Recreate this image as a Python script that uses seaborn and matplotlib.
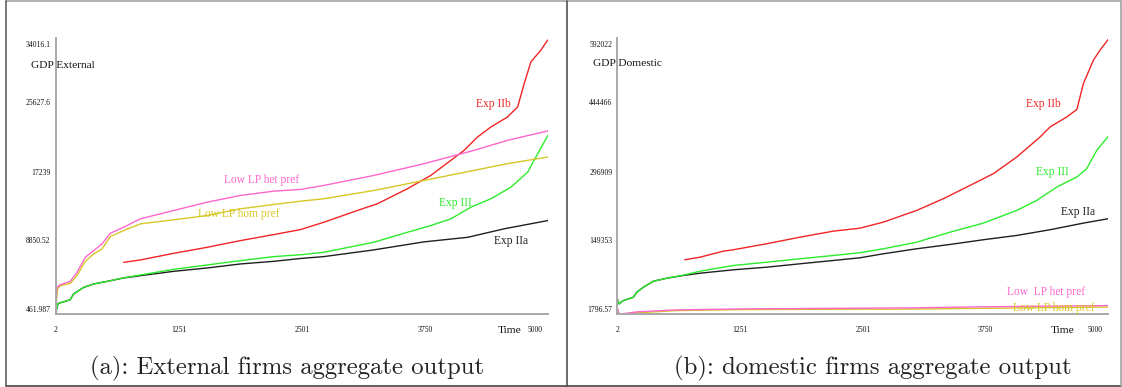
import matplotlib
matplotlib.use("Agg")
import matplotlib.pyplot as plt
import matplotlib.transforms as mtransforms
from matplotlib.lines import Line2D
import seaborn as sns

# ---------------- data ----------------
# Panel (a): external firms aggregate output
ext_IIa_t = [2, 27, 149, 183, 285, 386, 522, 691, 861, 1196, 1539, 1877, 2212, 2487, 2720, 3229, 3737, 4184, 4550, 4997]
ext_IIa_v = [681, 1779, 2230, 2925, 3730, 4144, 4461, 4876, 5156, 5681, 6095, 6583, 6900, 7250, 7473, 8290, 9265, 9826, 10850, 11862]

ext_III_t = [2, 27, 149, 183, 285, 386, 522, 691, 861, 1199, 1539, 1877, 2212, 2487, 2720, 3229, 3571, 3808, 4011, 4214, 4418, 4621, 4791, 4893, 4997]
ext_III_v = [681, 1779, 2230, 2925, 3730, 4144, 4461, 4900, 5242, 5925, 6461, 6985, 7473, 7700, 7997, 9217, 10436, 11253, 12070, 13484, 14509, 15923, 17752, 19995, 22227]

ext_IIb_t = [691, 861, 1199, 1539, 1877, 2215, 2487, 2723, 3062, 3266, 3571, 3808, 4011, 4146, 4282, 4418, 4587, 4689, 4756, 4824, 4926, 4994]
ext_IIb_v = [6778, 7071, 7875, 8607, 9424, 10155, 10765, 11655, 13082, 13899, 15728, 17349, 19178, 20397, 22019, 23238, 24458, 25677, 28530, 31164, 32590, 33810]

ext_het_t = [2, 14, 48, 149, 218, 302, 387, 472, 556, 691, 861, 1199, 1539, 1877, 2215, 2487, 2723, 3232, 3740, 4248, 4587, 4994]
ext_het_v = [889, 3730, 4059, 4461, 5559, 7388, 8204, 9022, 10314, 11046, 12070, 13082, 14094, 14911, 15435, 15642, 16130, 17349, 18776, 20397, 21617, 22751]

ext_hom_t = [2, 20, 48, 149, 218, 302, 387, 472, 556, 691, 861, 1199, 1539, 1877, 2215, 2487, 2723, 3232, 3740, 4248, 4587, 4994]
ext_hom_v = [889, 3535, 3937, 4217, 5156, 6900, 7802, 8412, 9912, 10643, 11460, 11948, 12472, 13289, 13813, 14216, 14509, 15520, 16740, 17959, 18776, 19581]

# Panel (b): domestic firms aggregate output
dom_IIa_t = [2, 19, 63, 165, 200, 267, 369, 505, 674, 844, 1183, 1523, 1862, 2202, 2473, 2711, 3051, 3390, 3729, 4069, 4408, 4747, 5000]
dom_IIa_v = [34800, 24086, 31159, 38231, 48947, 59663, 72523, 78952, 84739, 89668, 96955, 102527, 109814, 116887, 122673, 131246, 141962, 151178, 161251, 170466, 182682, 196827, 206257]

dom_III_t = [2, 19, 63, 165, 200, 267, 369, 505, 674, 844, 1183, 1523, 1862, 2202, 2473, 2711, 3051, 3390, 3729, 4069, 4272, 4476, 4680, 4781, 4883, 5000]
dom_III_v = [34800, 24086, 31159, 38231, 48947, 59663, 72523, 78952, 85500, 93946, 106161, 113235, 120530, 127591, 133500, 141962, 156093, 177523, 196827, 224026, 245456, 273958, 295388, 313389, 352606, 382608]

dom_IIb_t = [689, 844, 1081, 1183, 1523, 1862, 2202, 2473, 2711, 3051, 3322, 3661, 3831, 4069, 4306, 4408, 4578, 4680, 4747, 4849, 4917, 5000]
dom_IIb_v = [118376, 123948, 136806, 139806, 152664, 166808, 179666, 186000, 198953, 224026, 249099, 284673, 302674, 338248, 381108, 402538, 423968, 439826, 495544, 545476, 566906, 589836]

dom_het_t = [2, 20, 200, 607, 1285, 2983, 3662, 5000]
dom_het_v = [15000, 1900, 7000, 11226, 13370, 15513, 17656, 20441]

dom_hom_t = [2, 20, 200, 607, 1285, 2983, 3662, 5000]
dom_hom_v = [15000, 1900, 5000, 9727, 11870, 12941, 14441, 17227]

x_ticks = [2, 1251, 2501, 3750, 5000]
x_tick_labels = ["2", "1251", "2501", "3750", "5000"]
ext_y_ticks = [461.987, 8850.52, 17239, 25627.6, 34016.1]
ext_y_labels = ["461.987", "8850.52", "17239", "25627.6", "34016.1"]
dom_y_ticks = [1796.57, 149353, 296909, 444466, 592022]
dom_y_labels = ["1796.57", "149353", "296909", "444466", "592022"]

# ---------------- style ----------------
sns.set_style("white")
plt.rcParams["font.family"] = ["Liberation Serif", "DejaVu Serif"]

C_RED = "#f02424"
C_GREEN = "#2cec2c"
C_BLACK = "#202020"
C_PINK = "#ff66cc"
C_YEL = "#d6c626"

W, H = 1122, 387
fig = plt.figure(figsize=(W / 100, H / 100), dpi=100)
fig.patch.set_facecolor("white")


def fx(px):
    return px / W


def fy(py):
    return 1 - py / H


def make_axes(x0, x1):
    ax = fig.add_axes([fx(x0), fy(314.3), (x1 - x0) / W, (314.3 - 38.3) / H])
    ax.set_facecolor("white")
    for s in ("top", "right"):
        ax.spines[s].set_visible(False)
    for s in ("left", "bottom"):
        ax.spines[s].set_color("#a8a8a8")
        ax.spines[s].set_linewidth(1.4)
    ax.tick_params(axis="both", direction="inout", color="black", width=0.8,
                   labelsize=5.5, labelcolor="#111111")
    ax.tick_params(axis="x", length=7.2, pad=4.6)
    ax.tick_params(axis="y", length=6.0, pad=0.6)
    return ax


axL = make_axes(55.7, 548.3)
axR = make_axes(617.3, 1108.3)

lw = 1.0
# panel (a)
sns.lineplot(x=ext_IIa_t, y=ext_IIa_v, ax=axL, color=C_BLACK, linewidth=lw, legend=False)
sns.lineplot(x=ext_III_t, y=ext_III_v, ax=axL, color=C_GREEN, linewidth=lw, legend=False)
sns.lineplot(x=ext_IIb_t, y=ext_IIb_v, ax=axL, color=C_RED, linewidth=lw, legend=False)
sns.lineplot(x=ext_hom_t, y=ext_hom_v, ax=axL, color=C_YEL, linewidth=lw, legend=False)
sns.lineplot(x=ext_het_t, y=ext_het_v, ax=axL, color=C_PINK, linewidth=lw, legend=False)
# panel (b)
sns.lineplot(x=dom_IIa_t, y=dom_IIa_v, ax=axR, color=C_BLACK, linewidth=lw, legend=False)
sns.lineplot(x=dom_III_t, y=dom_III_v, ax=axR, color=C_GREEN, linewidth=lw, legend=False)
sns.lineplot(x=dom_IIb_t, y=dom_IIb_v, ax=axR, color=C_RED, linewidth=lw, legend=False)
sns.lineplot(x=dom_hom_t, y=dom_hom_v, ax=axR, color=C_YEL, linewidth=lw, legend=False)
sns.lineplot(x=dom_het_t, y=dom_het_v, ax=axR, color=C_PINK, linewidth=lw, legend=False)

for ax, yt, yl in ((axL, ext_y_ticks, ext_y_labels), (axR, dom_y_ticks, dom_y_labels)):
    ax.set_xlim(x_ticks[0], x_ticks[-1])
    ax.set_ylim(yt[0], yt[-1])
    ax.set_xticks(x_ticks)
    ax.set_xticklabels(x_tick_labels)
    ax.set_yticks(yt)
    ax.set_yticklabels(yl)
    ax.set_xlabel("")
    ax.set_ylabel("")
    # shift y tick labels like the reference (top one below, others above tick)
    ylabs = ax.get_yticklabels()
    for i, lab in enumerate(ylabs):
        dy = -0.058 if i == len(ylabs) - 1 else 0.048
        lab.set_transform(lab.get_transform() +
                          mtransforms.ScaledTranslation(0, dy, fig.dpi_scale_trans))
    xlabs = ax.get_xticklabels()
    xlabs[-1].set_transform(xlabs[-1].get_transform() +
                            mtransforms.ScaledTranslation(-0.13, 0, fig.dpi_scale_trans))

# axis titles
fig.text(fx(30.7), fy(65.7), "GDP External", fontsize=8.2, ha="left", va="center", color="#111111")
fig.text(fx(592.7), fy(64), "GDP Domestic", fontsize=8.2, ha="left", va="center", color="#111111")
fig.text(fx(509.5), fy(330.5), "Time", fontsize=8.2, ha="center", va="center", color="#111111")
fig.text(fx(1063), fy(330.5), "Time", fontsize=8.2, ha="center", va="center", color="#111111")

# series labels
lab_fs = 8.3
fig.text(fx(493.3), fy(104), "Exp IIb", color=C_RED, fontsize=lab_fs, ha="center", va="center")
fig.text(fx(455), fy(203.3), "Exp III", color=C_GREEN, fontsize=lab_fs, ha="center", va="center")
fig.text(fx(511.3), fy(240.7), "Exp IIa", color=C_BLACK, fontsize=lab_fs, ha="center", va="center")
fig.text(fx(224.3), fy(180), "Low LP het pref", color=C_PINK, fontsize=lab_fs, ha="left", va="center")
fig.text(fx(197.7), fy(214.3), "Low LP hom pref", color=C_YEL, fontsize=lab_fs, ha="left", va="center")

fig.text(fx(1043.4), fy(104), "Exp IIb", color=C_RED, fontsize=lab_fs, ha="center", va="center")
fig.text(fx(1052), fy(172.3), "Exp III", color=C_GREEN, fontsize=lab_fs, ha="center", va="center")
fig.text(fx(1078), fy(212.3), "Exp IIa", color=C_BLACK, fontsize=lab_fs, ha="center", va="center")
fig.text(fx(1007), fy(291.7), "Low  LP het pref", color=C_PINK, fontsize=lab_fs, ha="left", va="center")
fig.text(fx(1012.7), fy(308.3), "Low LP hom pref", color=C_YEL, fontsize=lab_fs, ha="left", va="center")

# captions
cap_font = ["cmr10", "DejaVu Serif"]
fig.text(fx(287.5), fy(368), "(a): External firms aggregate output", family=cap_font,
         fontsize=17.8, ha="center", va="center", color="#222222")
fig.text(fx(872.7), fy(368), "(b): domestic firms aggregate output", family=cap_font,
         fontsize=17.8, ha="center", va="center", color="#222222")

# panel frames
def hline(y, x0, x1, color):
    fig.add_artist(Line2D([fx(x0), fx(x1)], [fy(y), fy(y)], transform=fig.transFigure,
                          color=color, linewidth=1.1))


def vline(x, y0, y1, color):
    fig.add_artist(Line2D([fx(x), fx(x)], [fy(y0), fy(y1)], transform=fig.transFigure,
                          color=color, linewidth=1.1))


hline(0.7, 5.5, 1121.3, "#9a9a9a")
hline(386.2, 5.5, 1121.3, "#333333")
vline(5.5, 0.7, 386.2, "#555555")
vline(567.5, 0.7, 386.2, "#444444")
vline(1121.3, 0.7, 386.2, "#9a9a9a")

fig.savefig("out.png", dpi=100, facecolor="white")
